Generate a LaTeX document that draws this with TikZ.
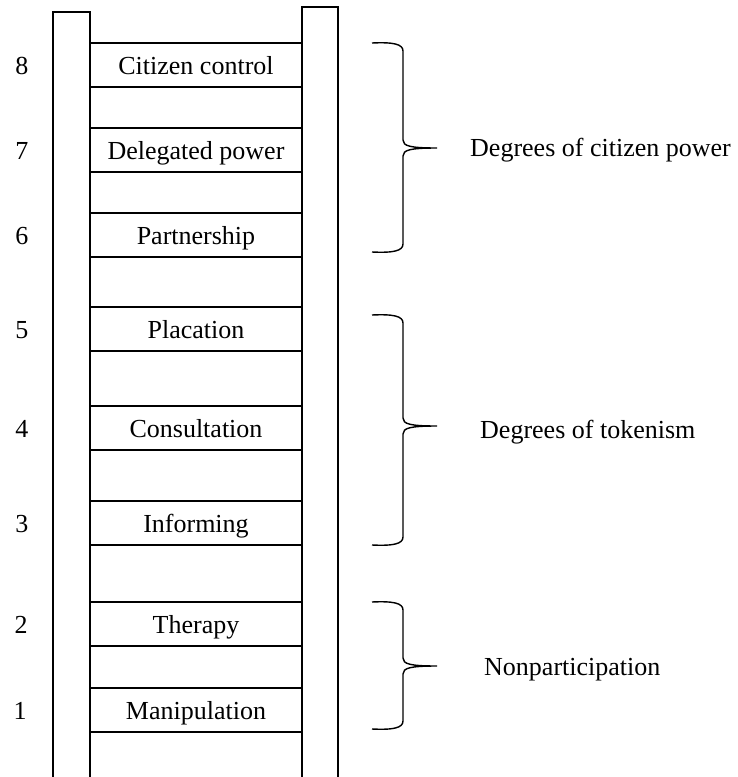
\documentclass[tikz,border=0pt]{standalone}
\usepackage{fontspec}
\setmainfont{Liberation Serif}
\begin{document}
\begin{tikzpicture}[x=1pt,y=-1pt,
  every node/.style={font=\fontsize{26}{30}\selectfont, inner sep=0pt,
    text height=19pt, text depth=0pt},
  rail/.style={draw=black, line width=2pt},
  rung/.style={draw=black, line width=1.8pt, minimum width=211pt, minimum height=44pt, anchor=center},
  numlabel/.style={anchor=center},
  grouplabel/.style={anchor=west},
  bracket/.style={draw=black, line width=1.4pt}]
  \useasboundingbox (0,0) rectangle (738,777);
  \clip (0,0) rectangle (738,777);

  % ladder rails
  \draw[rail] (53,795) -- (53,12) -- (90,12) -- (90,795);
  \draw[rail] (302,795) -- (302,7) -- (338,7) -- (338,795);

  % rungs, from top to bottom
  \node[rung] (r8) at (196,65)  {Citizen control};
  \node[rung] (r7) at (196,150) {Delegated power};
  \node[rung] (r6) at (196,235) {Partnership};
  \node[rung] (r5) at (196,329) {Placation};
  \node[rung] (r4) at (196,428) {Consultation};
  \node[rung] (r3) at (196,523) {Informing};
  \node[rung] (r2) at (196,624) {Therapy};
  \node[rung] (r1) at (196,710) {Manipulation};

  % rung numbers
  \node[numlabel] (n8) at (22,65)  {8};
  \node[numlabel] (n7) at (22,150) {7};
  \node[numlabel] (n6) at (22,235) {6};
  \node[numlabel] (n5) at (22,329) {5};
  \node[numlabel] (n4) at (22,428) {4};
  \node[numlabel] (n3) at (22,523) {3};
  \node[numlabel] (n2) at (21,624) {2};
  \node[numlabel] (n1) at (20,710) {1};

  % group labels
  \node[grouplabel] (g3) at (470,146.5) {Degrees of citizen power};
  \node[grouplabel] (g2) at (480,428.5) {Degrees of tokenism};
  \node[grouplabel] (g1) at (484,665.5) {Nonparticipation};

  % curly brackets: #1 top, #2 tip, #3 bottom
  \newcommand\groupbracket[3]{%
    \draw[bracket] (372,#1) .. controls (393,#1-1) and (403,#1+1) .. (403,#1+8)
      -- (403,#2-8) .. controls (403,#2-2) and (410,#2) .. (437,#2)
      .. controls (410,#2) and (403,#2+2) .. (403,#2+8)
      -- (403,#3-8) .. controls (403,#3-1) and (393,#3+1) .. (372,#3);}
  \groupbracket{43}{148}{252}
  \groupbracket{315}{426}{545}
  \groupbracket{602}{666}{729}
\end{tikzpicture}
\end{document}
